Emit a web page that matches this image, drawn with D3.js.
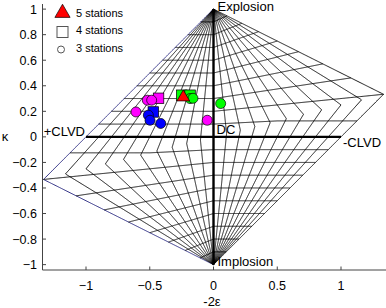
<!DOCTYPE html>
<html>
<head>
<meta charset="utf-8">
<script src="https://cdn.jsdelivr.net/npm/d3@7"></script>
<style>
  html, body { margin: 0; padding: 0; background: #fff; }
  svg text { font-family: "Liberation Sans", Arial, sans-serif; fill: #000; }
</style>
</head>
<body>
<div id="chart"></div>
<script>
// Events in the Hudson source-type plot, [-2ε, κ]
const magentaCircles = [[-0.608, 0.195], [-0.519, 0.287], [-0.485, 0.287], [-0.049, 0.130]];
const magentaSquares = [[-0.431, 0.302]];
const blueSquares = [[-0.472, 0.195]];
const blueCircles = [[-0.511, 0.170], [-0.498, 0.130], [-0.414, 0.105]];
const greenSquares = [[-0.249, 0.326], [-0.184, 0.326]];
const greenCircles = [[-0.184, 0.300], [-0.161, 0.302], [0.056, 0.261]];
const redTriangles = [[-0.237, 0.318]];

const legendLabels = ["5 stations", "4 stations", "3 stations"];
const xTicks = [-1, -0.5, 0, 0.5, 1];
const yTicks = [-1, -0.8, -0.6, -0.4, -0.2, 0, 0.2, 0.4, 0.6, 0.8, 1];
const gridSteps = d3.range(-10, 11).map(i => i / 10);

const W = 386, H = 308;
const svg = d3.select("#chart").append("svg")
    .attr("width", W).attr("height", H);

const x = d3.scaleLinear().domain([-1.3412, 1.3529]).range([42.5, 386]);
const y = d3.scaleLinear().domain([-1.042, 1.04]).range([270, 4]);

// Hudson (tau, k) -> (u, v) equal-area mapping
function tk2uv(tau, k) {
    if (tau > 0 && k > 0) {
        if (tau < 4 * k) return [tau / (1 - tau / 2), k / (1 - tau / 2)];
        return [tau / (1 - 2 * k), k / (1 - 2 * k)];
    }
    if (tau < 0 && k < 0) {
        if (tau > 4 * k) return [tau / (1 + tau / 2), k / (1 + tau / 2)];
        return [tau / (1 + 2 * k), k / (1 + 2 * k)];
    }
    return [tau, k];
}

const line = d3.line().x(d => x(d[0])).y(d => y(d[1]));
const N = 300;
const grid = svg.append("g").attr("fill", "none");

// constant-T lines
gridSteps.forEach(T => {
    [1, -1].forEach(sgn => {
        const pts = d3.range(N + 1).map(i => {
            const k = sgn * i / N;
            return tk2uv(T * (1 - Math.abs(k)), k);
        });
        grid.append("path")
            .attr("d", line(pts))
            .attr("stroke", T === -1 ? "#1c1c78" : "#000")
            .attr("stroke-width", T === 0 ? 2.4 : 0.9);
    });
});

// constant-k lines
gridSteps.forEach(k => {
    if (Math.abs(k) === 1) return;
    [1, -1].forEach(sgn => {
        const pts = d3.range(N + 1).map(i => {
            const tau = sgn * (1 - Math.abs(k)) * i / N;
            return tk2uv(tau, k);
        });
        grid.append("path")
            .attr("d", line(pts))
            .attr("stroke", "#000")
            .attr("stroke-width", k === 0 ? 2.4 : 0.9);
    });
});

// axes
const axisG = svg.append("g");
axisG.append("line").attr("x1", 42.5).attr("x2", 42.5).attr("y1", 4).attr("y2", 270)
    .attr("stroke", "#444");
axisG.append("line").attr("x1", 42.5).attr("x2", 386).attr("y1", 270).attr("y2", 270)
    .attr("stroke", "#444");

const fmt = v => (v < 0 ? "\u2212" : "") + d3.format("~g")(Math.abs(v));

yTicks.forEach(t => {
    axisG.append("line").attr("x1", 42.5).attr("x2", 46).attr("y1", y(t)).attr("y2", y(t))
        .attr("stroke", "#444");
    axisG.append("text").attr("x", 37).attr("y", y(t) + 4.5)
        .attr("text-anchor", "end").style("font-size", "12.5px").text(fmt(t));
});
xTicks.forEach(t => {
    axisG.append("line").attr("x1", x(t)).attr("x2", x(t)).attr("y1", 270).attr("y2", 266.5)
        .attr("stroke", "#444");
    axisG.append("text").attr("x", x(t)).attr("y", 290)
        .attr("text-anchor", "middle").style("font-size", "12.5px").text(fmt(t));
});
svg.append("text").attr("x", 212).attr("y", 306).attr("text-anchor", "middle")
    .style("font-size", "13px").text("-2\u03b5");
svg.append("text").attr("x", 5).attr("y", 141).attr("text-anchor", "middle")
    .style("font-size", "13px").text("\u03ba");

// annotations
const ann = svg.append("g").style("font-size", "13px");
ann.append("text").attr("x", x(0) + 4).attr("y", y(1) + 2).text("Explosion");
ann.append("text").attr("x", x(0) + 4).attr("y", y(-1) + 1).text("Implosion");
ann.append("text").attr("x", x(0) + 3).attr("y", y(0) - 3).text("DC");
ann.append("text").attr("x", x(-1) - 1).attr("y", y(0) - 1).attr("text-anchor", "end").text("+CLVD");
ann.append("text").attr("x", x(1) + 2).attr("y", y(0) + 10).text("-CLVD");

// markers
const marks = svg.append("g").attr("stroke", "#000").attr("stroke-width", 0.7);
const sq = 10.5;
function squares(data, color) {
    marks.selectAll(null).data(data).enter().append("rect")
        .attr("x", d => x(d[0]) - sq / 2).attr("y", d => y(d[1]) - sq / 2)
        .attr("width", sq).attr("height", sq).attr("fill", color);
}
function circles(data, color) {
    marks.selectAll(null).data(data).enter().append("circle")
        .attr("cx", d => x(d[0])).attr("cy", d => y(d[1])).attr("r", 5).attr("fill", color);
}
const tri = d3.symbol().type(d3.symbolTriangle).size(70);
squares(magentaSquares, "#ff00ff");
squares(blueSquares, "#0000ff");
squares(greenSquares, "#00ff00");
circles(magentaCircles, "#ff00ff");
circles(blueCircles, "#0000ff");
circles(greenCircles, "#00ff00");
marks.selectAll(null).data(redTriangles).enter().append("path")
    .attr("d", tri)
    .attr("transform", d => `translate(${x(d[0])},${y(d[1]) + 1})`)
    .attr("fill", "#ff0000");

// legend
const leg = svg.append("g").style("font-size", "11px");
leg.append("path").attr("d", d3.symbol().type(d3.symbolTriangle).size(100))
    .attr("transform", "translate(62.5,13)").attr("fill", "#ff0000").attr("stroke", "#000").attr("stroke-width", 0.7);
leg.append("rect").attr("x", 57).attr("y", 26.5).attr("width", 11).attr("height", 11)
    .attr("fill", "#fff").attr("stroke", "#555");
leg.append("circle").attr("cx", 61).attr("cy", 49.5).attr("r", 3.5)
    .attr("fill", "#fff").attr("stroke", "#555");
legendLabels.forEach((l, i) => {
    leg.append("text").attr("x", 76).attr("y", [16.5, 34, 52][i]).text(l);
});
</script>
</body>
</html>
